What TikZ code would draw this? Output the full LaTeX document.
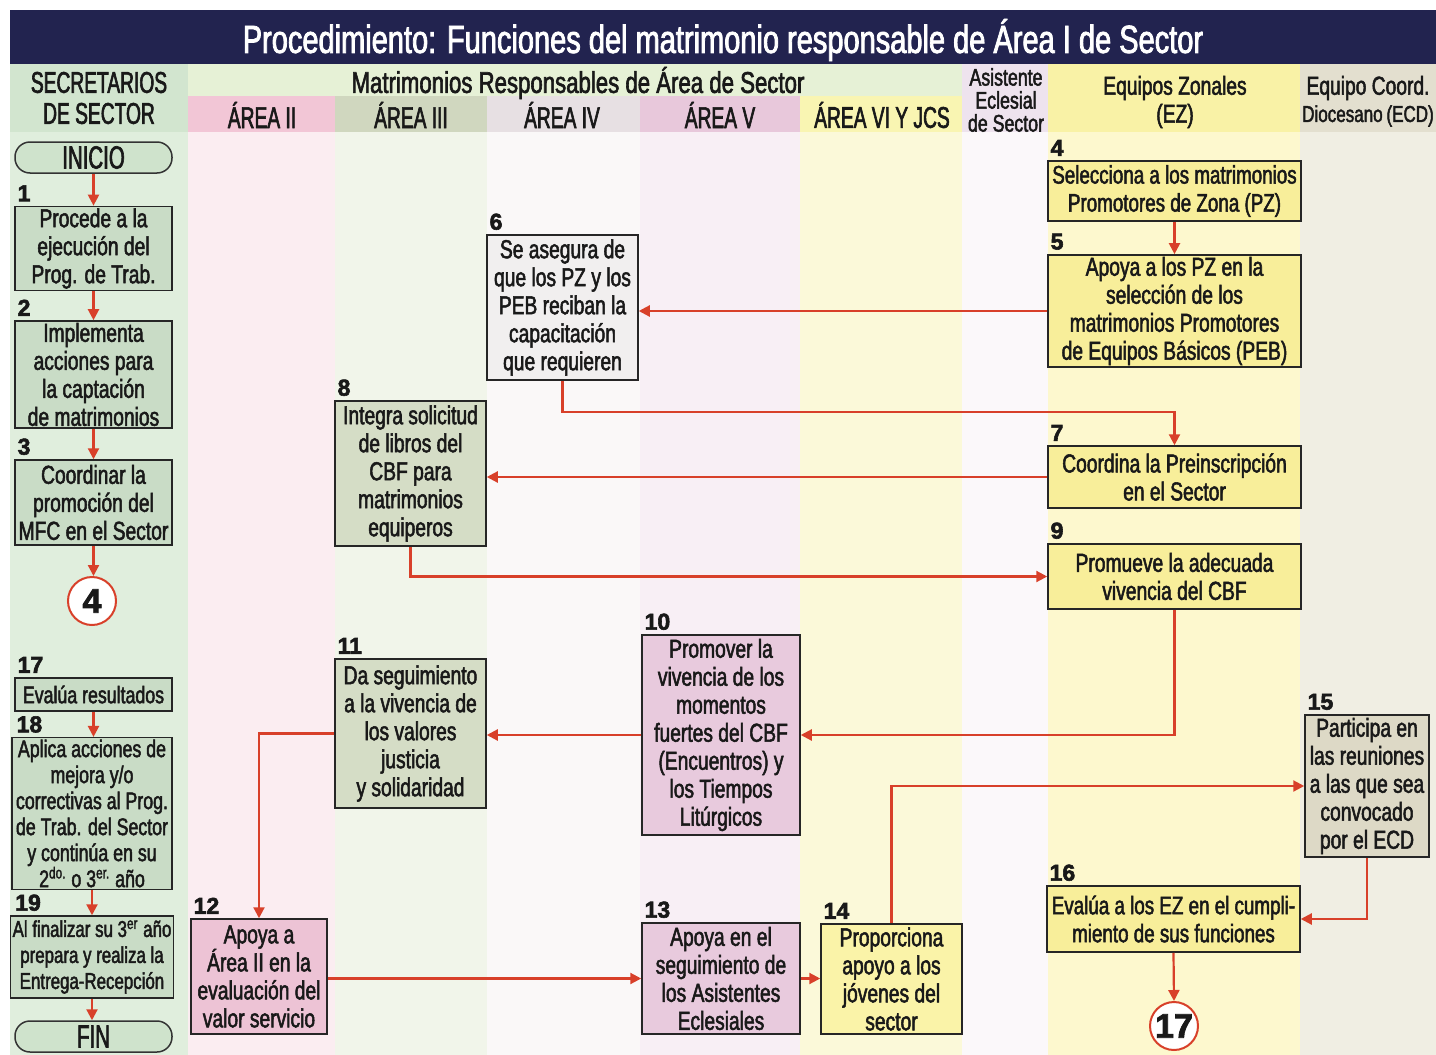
\documentclass[tikz,border=0pt]{standalone}
\usepackage{fontspec}
\setmainfont{Liberation Sans}[FakeStretch=0.74,FakeBold=2]
\newfontfamily\narrowfont{Liberation Sans}[FakeStretch=0.64,FakeBold=2]
\newfontfamily\numfont{Liberation Sans}[FakeBold=2.5]
\usetikzlibrary{arrows.meta,calc}

\definecolor{navy}{HTML}{22234F}
\definecolor{arrowred}{HTML}{D8402A}
% header colours
\definecolor{hSec}{HTML}{D2E5CF}
\definecolor{hMat}{HTML}{E6F1D6}
\definecolor{hII}{HTML}{F2C6D6}
\definecolor{hIII}{HTML}{D0D7BF}
\definecolor{hIV}{HTML}{E7E0E3}
\definecolor{hV}{HTML}{E8C8DB}
\definecolor{hVI}{HTML}{F9F5B2}
\definecolor{hAs}{HTML}{EEE3EE}
\definecolor{hEZ}{HTML}{F9F2A6}
\definecolor{hECD}{HTML}{E3DFCF}
% body colours
\definecolor{bSec}{HTML}{E0EEDD}
\definecolor{bII}{HTML}{FBEDF1}
\definecolor{bIII}{HTML}{F1F5EA}
\definecolor{bIV}{HTML}{FAF8F8}
\definecolor{bV}{HTML}{F8EFF5}
\definecolor{bVI}{HTML}{FBF9D9}
\definecolor{bAs}{HTML}{FBF8FA}
\definecolor{bEZ}{HTML}{FDF8CE}
\definecolor{bECD}{HTML}{F0EEE3}
% box fills
\definecolor{fSec}{HTML}{C9DCC6}
\definecolor{fII}{HTML}{EDC3D5}
\definecolor{fIII}{HTML}{D5DDC6}
\definecolor{fIV}{HTML}{F1EFEF}
\definecolor{fV}{HTML}{E8CADD}
\definecolor{fVI}{HTML}{FAF3A8}
\definecolor{fEZ}{HTML}{F8EE9A}
\definecolor{fECD}{HTML}{DDD9C6}
\definecolor{termgreen}{HTML}{CFE3CC}

\tikzset{
  box/.style={draw=black!85, line width=0.75pt, align=center, inner sep=1pt,
    font=\fontsize{13}{14}\selectfont, text=black!90},
  smallbox/.style={box, font=\fontsize{12}{13}\selectfont},
  stepnum/.style={anchor=south west, inner sep=0pt,
    font=\numfont\bfseries\fontsize{11.5}{11.5}\selectfont, text=black!90},
  conn/.style={draw=arrowred, line width=1.1pt, -{Triangle[length=5.5pt,width=5.5pt]}},
  term/.style={draw=black!80, line width=0.75pt, rounded corners=7.5pt, fill=termgreen,
    font=\narrowfont\fontsize{16}{16}\selectfont, minimum width=78.5pt,
    minimum height=15.5pt, inner sep=0pt, text=black!90},
  offpage/.style={circle, draw=arrowred, line width=1pt, fill=white, minimum size=24pt,
    inner sep=0pt, font=\numfont\bfseries\fontsize{17}{17}\selectfont, text=black!90},
  caphdr/.style={align=center, inner sep=0pt, font=\narrowfont\fontsize{15}{15.5}\selectfont, text=black!90},
  hdr/.style={align=center, inner sep=0pt, text=black!90}
}

\begin{document}
\begin{tikzpicture}[x=0.5pt,y=-0.5pt]
\useasboundingbox (0,0) rectangle (1436,1055);
\fill[white] (0,0) rectangle (1436,1055);

% ---------- body columns ----------
\fill[bSec] (10,132) rectangle (188,1055);
\fill[bII]  (188,132) rectangle (335,1055);
\fill[bIII] (335,132) rectangle (487,1055);
\fill[bIV]  (487,132) rectangle (640,1055);
\fill[bV]   (640,132) rectangle (800,1055);
\fill[bVI]  (800,132) rectangle (962,1055);
\fill[bAs]  (962,132) rectangle (1048,1055);
\fill[bEZ]  (1048,132) rectangle (1300,1055);
\fill[bECD] (1300,132) rectangle (1436,1055);

% ---------- header ----------
\fill[navy] (10,10) rectangle (1436,64);
\fill[hSec] (10,64) rectangle (188,132);
\fill[hMat] (188,64) rectangle (962,96);
\fill[hII]  (188,96) rectangle (335,132);
\fill[hIII] (335,96) rectangle (487,132);
\fill[hIV]  (487,96) rectangle (640,132);
\fill[hV]   (640,96) rectangle (800,132);
\fill[hVI]  (800,96) rectangle (962,132);
\fill[hAs]  (962,64) rectangle (1048,132);
\fill[hEZ]  (1048,64) rectangle (1300,132);
\fill[hECD] (1300,64) rectangle (1436,132);

\node[hdr, text=white, font=\fontsize{19.6}{19.6}\selectfont] (title) at (723,40)
  {Procedimiento: Funciones del matrimonio responsable de Área I de Sector};
\node[caphdr] (hsec) at (99,98) {SECRETARIOS\\DE SECTOR};
\node[hdr, font=\fontsize{15}{15}\selectfont] (hmat) at (578,83) {Matrimonios Responsables de Área de Sector};
\node[caphdr] (hII)  at (262,115) {ÁREA II};
\node[caphdr] (hIII) at (411,115) {ÁREA III};
\node[caphdr] (hIV)  at (562,115) {ÁREA IV};
\node[caphdr] (hV)   at (720,115) {ÁREA V};
\node[caphdr] (hVI)  at (882,115) {ÁREA VI Y JCS};
\node[hdr, font=\fontsize{12}{11.5}\selectfont] (has) at (1006,100) {Asistente\\Eclesial\\de Sector};
\node[hdr, font=\fontsize{13}{14}\selectfont] (hez) at (1175,102) {Equipos Zonales\\(EZ)};
\node[hdr, font=\fontsize{13}{13}\selectfont] (hecd1) at (1368,88) {Equipo Coord.};
\node[hdr, font=\fontsize{11.5}{11.5}\selectfont] (hecd2) at (1368,116) {Diocesano\,(ECD)};

% ---------- left column ----------
\node[term] (inicio) at (93.5,157.5) {INICIO};
\node[box, fill=fSec, minimum width=78.5pt, minimum height=41.5pt] (b1) at (93.5,248.5)
  {Procede a la\\ejecución del\\Prog. de Trab.};
\node[box, fill=fSec, minimum width=78.5pt, minimum height=52.5pt] (b2) at (93.5,374.5)
  {Implementa\\acciones para\\la captación\\de matrimonios};
\node[box, fill=fSec, minimum width=78.5pt, minimum height=42.5pt] (b3) at (93.5,502.5)
  {Coordinar la\\promoción del\\MFC en el Sector};
\node[offpage] (c4) at (92,601) {4};

\node[smallbox, fill=fSec, minimum width=78.5pt, minimum height=16.5pt] (b17) at (93.5,694.5)
  {Evalúa resultados};
\node[smallbox, fill=fSec, minimum width=80pt, minimum height=74.5pt] (b18) at (92,813.5)
  {Aplica acciones de\\mejora y/o\\correctivas al Prog.\\de Trab. del Sector\\y continúa en su\\2\textsuperscript{do.} o 3\textsuperscript{er.} año};
\node[smallbox, fill=fSec, minimum width=80pt, minimum height=41pt,
  font=\fontsize{11.4}{13}\selectfont] (b19) at (92,957)
  {Al finalizar su 3\textsuperscript{er} año\\prepara y realiza la\\Entrega-Recepción};
\node[term] (fin) at (93.5,1036.5) {FIN};

% ---------- right / middle ----------
\node[box, fill=fEZ, minimum width=126.5pt, minimum height=30pt,
  font=\fontsize{12.7}{14}\selectfont] (b4) at (1174.5,191)
  {Selecciona a los matrimonios\\Promotores de Zona (PZ)};
\node[box, fill=fEZ, minimum width=126.5pt, minimum height=56pt] (b5) at (1174.5,311)
  {Apoya a los PZ en la\\selección de los\\matrimonios Promotores\\de Equipos Básicos (PEB)};
\node[box, fill=fIV, minimum width=75.5pt, minimum height=72.5pt] (b6) at (562.5,307.5)
  {Se asegura de\\que los PZ y los\\PEB reciban la\\capacitación\\que requieren};
\node[box, fill=fEZ, minimum width=126.5pt, minimum height=31pt] (b7) at (1174.5,477)
  {Coordina la Preinscripción\\en el Sector};
\node[box, fill=fIII, minimum width=75.5pt, minimum height=72.5pt] (b8) at (410.5,473.5)
  {Integra solicitud\\de libros del\\CBF para\\matrimonios\\equiperos};
\node[box, fill=fEZ, minimum width=126.5pt, minimum height=32.5pt] (b9) at (1174.5,576.5)
  {Promueve la adecuada\\vivencia del CBF};
\node[box, fill=fV, minimum width=79pt, minimum height=100pt] (b10) at (721,735)
  {Promover la\\vivencia de los\\momentos\\fuertes del CBF\\(Encuentros) y\\los Tiempos\\Litúrgicos};
\node[box, fill=fIII, minimum width=75.5pt, minimum height=74.5pt] (b11) at (410.5,733.5)
  {Da seguimiento\\a la vivencia de\\los valores\\justicia\\y solidaridad};
\node[box, fill=fII, minimum width=68pt, minimum height=57.5pt] (b12) at (259,976.5)
  {Apoya a\\Área II en la\\evaluación del\\valor servicio};
\node[box, fill=fV, minimum width=79pt, minimum height=55.5pt] (b13) at (721,978.5)
  {Apoya en el\\seguimiento de\\los Asistentes\\Eclesiales};
\node[box, fill=fVI, minimum width=70.5pt, minimum height=55pt] (b14) at (891.5,979)
  {Proporciona\\apoyo a los\\jóvenes del\\sector};
\node[box, fill=fECD, minimum width=62pt, minimum height=71pt] (b15) at (1367,786)
  {Participa en\\las reuniones\\a las que sea\\convocado\\por el ECD};
\node[box, fill=fEZ, minimum width=126.5pt, minimum height=33pt,
  font=\fontsize{12.7}{14}\selectfont] (b16) at (1173.5,919)
  {Evalúa a los EZ en el cumpli-\\miento de sus funciones};
\node[offpage] (c17) at (1174,1026) {17};

% ---------- step numbers ----------
\foreach \b/\t in {b1/1,b2/2,b3/3,b17/17,b4/4,b5/5,b6/6,b7/7,b8/8,b9/9,b10/10,b11/11,b12/12,b13/13,b14/14,b15/15,b16/16}
  \node[stepnum] (n\t) at ([shift={(3,-4)}]\b.north west) {\t};
\node[stepnum] (n18) at ([shift={(5,-4)}]b18.north west) {18};
\node[stepnum] (n19) at ([shift={(5,-4)}]b19.north west) {19};

% ---------- connectors ----------
\draw[conn] (inicio.south) -- (inicio.south |- b1.north);
\draw[conn] (b1.south) -- (b1.south |- b2.north);
\draw[conn] (b2.south) -- (b2.south |- b3.north);
\draw[conn] (b3.south) -- (b3.south |- c4.north);
\draw[conn] (b17.south) -- (b17.south |- b18.north);
\draw[conn] (b18.south) -- (b18.south |- b19.north);
\draw[conn] (b19.south) -- (b19.south |- fin.north);

\draw[conn] (b4.south) -- (b5.north);
\draw[conn] (b5.west) -- (b6.east |- b5.west);
\draw[conn] (b6.south) -- ++(0,31) -| (b7.north);
\draw[conn] (b7.west) -- (b8.east |- b7.west);
\draw[conn] (b8.south) |- (b9.west);
\draw[conn] (b9.south) |- (b10.east);
\draw[conn] (b10.west) -- (b11.east |- b10.west);
\draw[conn] (b11.west) -| (b12.north);
\draw[conn] (b12.east |- b13.west) -- (b13.west);
\draw[conn] (b13.east) -- (b14.west |- b13.east);
\draw[conn] (b14.north) |- (b15.west);
\draw[conn] (b15.south) |- (b16.east);
\draw[conn] (b16.south) -- (c17.north);
\end{tikzpicture}
\end{document}
